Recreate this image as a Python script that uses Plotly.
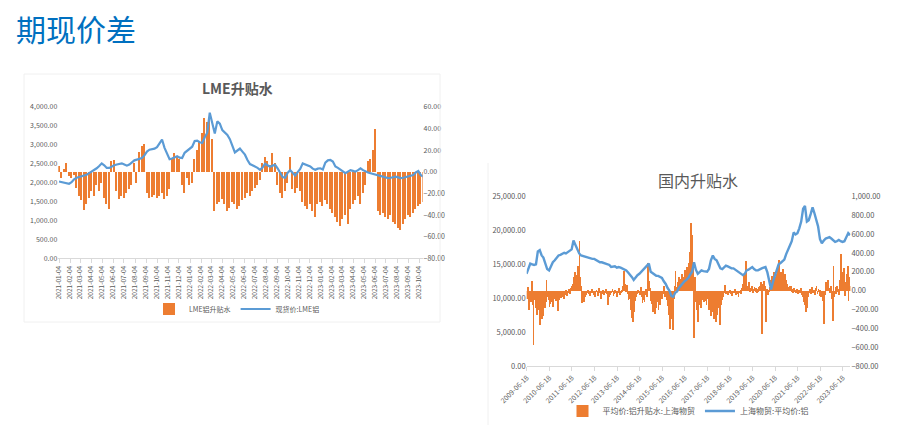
import plotly.graph_objects as go
import pandas as pd

W, H = 899, 425

# ---------------- Left chart: LME升贴水 (weekly) ----------------
lme_dates = pd.date_range('2021-01-04', periods=146, freq='7D')
lme_spread = [
    5, -6, 3, 8, -4, -6, -3, -15, -22, -26,
    -35, -30, -24, -18, -22, -12, -18, -10, -24, -30,
    -34, 10, 11, -18, -25, -22, -24, -20, -16, -12,
    8, -10, 18, 24, 26, -20, -24, -23, -21, -24,
    -22, -20, -25, -22, -16, 12, 17, 15, 12, -12,
    -20, -6, -12, -10, 12, 20, 28, 36, 50, 46,
    48, 30, -36, -30, -28, -25, -30, -36, -33, -28,
    -30, -34, -32, -26, -24, -20, -22, -18, -15, -12,
    -8, 8, 14, 10, 6, 17, 8, -12, -20, -24,
    -18, -10, 14, -16, -20, -15, -18, -28, -32, -34,
    -30, -36, -42, -30, -28, -32, -26, -30, -34, -38,
    -42, -46, -50, -44, -40, -48, -34, -30, -26, -22,
    -30, -20, -12, 10, 12, 20, 40, -36, -40, -38,
    -42, -44, -40, -46, -48, -52, -54, -48, -44, -40,
    -42, -38, -34, -32, -30, -28,
]
lme_price = [
    2030, 2010, 1990, 1975, 1970, 2010, 2090, 2130, 2150, 2170,
    2200, 2210, 2250, 2290, 2330, 2380, 2440, 2510, 2460, 2390,
    2390, 2430, 2460, 2480, 2500, 2510, 2480, 2450, 2480, 2540,
    2590, 2610, 2630, 2650, 2720, 2820, 2870, 2880, 2900, 2940,
    3050, 3140, 2920, 2760, 2620, 2640, 2680, 2700, 2660, 2650,
    2790, 2840, 2900, 2950, 3100, 3110, 3070, 3050, 3200, 3320,
    3850, 3600, 3300, 3620, 3560, 3390, 3330, 3260, 3150, 2980,
    2800, 2850, 2900, 2820, 2740, 2600, 2490, 2460, 2430, 2390,
    2340, 2400, 2500, 2470, 2420, 2450, 2470, 2380, 2260, 2150,
    2130, 2260, 2330, 2250, 2190, 2280, 2360, 2510, 2490, 2460,
    2430, 2370, 2340, 2370, 2380, 2350, 2530, 2590, 2600, 2560,
    2430, 2390, 2340, 2290, 2250, 2290, 2330, 2310, 2290, 2330,
    2380, 2330, 2290, 2270, 2250, 2230, 2210, 2190, 2170, 2160,
    2140, 2120, 2130, 2150, 2160, 2140, 2120, 2130, 2150, 2160,
    2180, 2200, 2270, 2310, 2200, 2160,
]
lme_ticks = [f'{y}-{m:02d}-04' for y in (2021, 2022, 2023) for m in range(1, 13)
             if not (y == 2023 and m > 10)]

# ---------------- Right chart: 国内升贴水 ----------------
sh_spread_by_year = {
    2009: [-80, 40, -205, -60, -120, 110, -150, -570, -90, -100, -180, -250, -120],
    2010: [-200, -360, -150, -300, -260, -100, -180, -120, 120, -60, -90, -170,
           -140, -60, -120, -170, -80, -40, -100, -60, -210, -90, -40, -70],
    2011: [-60, -30, -80, -20, -40, 10, -50, -20, 20, -30, 30, 60,
           80, 150, 200, 120, 170, 270, 180, 535, 150, 60, -130, -90],
    2012: [-120, -60, -40, -20, 10, -30, -50, -20, 20, -10, -40, -60,
           -30, 10, -20, -50, 30, -10, -80, -30, 10, -40, -20, 20],
    2013: [-30, -150, -60, -20, -40, -10, 20, -50, -30, 10, -20, -60,
           -10, 30, -40, -20, 10, 60, 215, 80, 20, 70, -30, -90],
    2014: [-80, -200, -150, -280, -330, -220, -100, -60, -30, 10, -20, -40,
           40, -60, -130, -90, -120, -40, 20, -60, 300, 110, 30, -100],
    2015: [-140, -220, -100, -240, -180, -120, -90, -200, -60, -150, -40, -80,
           -30, 50, -60, -20, -90, -160, -250, -400, -120, -300, -415, -80],
    2016: [60, 215, 40, 100, 60, 150, 90, 130, 180, 110, 150, 220,
           170, 260, 200, 300, 420, 728, 350, 600, 250, -500, 150, -120],
    2017: [-200, -330, -150, -100, -180, -90, -60, -120, -40, -100, -150, -80,
           -120, -200, -180, -260, -150, -220, -300, -200, -330, -250, -120, -180],
    2018: [-360, -150, -90, -40, -60, -20, 70, -30, -10, -40, -20, 10,
           -30, -50, -10, -20, 20, -40, -30, -10, -60, -20, 10, -30],
    2019: [30, 80, 170, 120, 320, 60, 40, 100, 20, 30, 50, -10,
           20, 40, 10, 30, -20, 20, 40, 60, 100, -455, 80, 110],
    2020: [60, -330, 20, -40, 10, 40, 120, 80, 160, 110, 200, 150,
           90, 180, 250, 330, 120, 200, 160, 235, 100, 180, 120, 60],
    2021: [80, 40, 60, 30, 50, 20, -10, 30, 10, -20, 20, -30,
           10, -20, 30, -40, -60, -120, -80, -150, -225, -180, -60, -20],
    2022: [20, -30, 40, -20, 10, -40, 30, 60, -30, 20, -50, 10,
           -60, -20, -100, -350, -40, 100, 80, 120, 30, -20, 60, -80],
    2023: [-320, 270, -60, 40, -30, 60, 20, -40, 120, 390, 60, 200,
           250, -50, 100, 180, 270, -100, 150, 60],
}
sh_price_by_year = {
    2009: [13600, 14300, 15100, 15000, 14900, 15000, 16900],
    2010: [17100, 16300, 16000, 15200, 14300, 14100, 14700, 15300, 15600, 16000, 16300, 16400],
    2011: [16600, 16700, 16600, 16800, 16900, 17200, 18500, 17800, 17300, 16600, 16300, 16200],
    2012: [16100, 16100, 16000, 15900, 15800, 15800, 15600, 15400, 15300, 15300, 15200, 15200],
    2013: [15100, 14900, 14600, 14600, 14700, 14500, 14600, 14500, 14400, 14200, 14100, 13800],
    2014: [13500, 13100, 12700, 13100, 13400, 13600, 13900, 14200, 14600, 14800, 15100, 13900],
    2015: [13700, 13400, 13300, 13300, 13200, 13000, 12500, 12100, 11500, 11100, 10300, 10200],
    2016: [10800, 11000, 11500, 11900, 12100, 12500, 12700, 13000, 13500, 13900, 15300, 14200],
    2017: [13600, 13800, 14100, 14000, 13900, 13900, 14300, 15600, 16300, 15800, 15600, 14900],
    2018: [14400, 14300, 14500, 14800, 14700, 14500, 14400, 14400, 14200, 14000, 13900, 13700],
    2019: [13400, 13600, 14100, 14200, 14400, 14600, 14300, 14100, 14100, 14300, 14400, 14500],
    2020: [14600, 13800, 12600, 11300, 12400, 13300, 14300, 15000, 15200, 15400, 15700, 16500],
    2021: [17300, 17800, 18400, 19700, 19400, 19600, 20300, 21300, 23200, 23600, 21300, 21500],
    2022: [22400, 23400, 22600, 21400, 20600, 18700, 18100, 18500, 18800, 18900, 19000, 18800],
    2023: [18500, 18300, 18400, 18600, 18400, 18300, 18400, 18900, 19600, 19300],
}
sh_ticks = [f'{y}-06-18' for y in range(2009, 2024)]

# build date lists (half-monthly for spread, monthly for price)
sh_spread_dates, sh_spread = [], []
for y, vals in sh_spread_by_year.items():
    slots = [(m, d) for m in range(1, 13) for d in (1, 16)]
    if y == 2009:
        slots = slots[11:]
    for (m, d), v in zip(slots, vals):
        sh_spread_dates.append(f'{y}-{m:02d}-{d:02d}')
        sh_spread.append(v)
sh_price_dates, sh_price = [], []
for y, vals in sh_price_by_year.items():
    months = list(range(6, 13)) if y == 2009 else list(range(1, 13))
    for m, v in zip(months, vals):
        sh_price_dates.append(f'{y}-{m:02d}-15')
        sh_price.append(v)

ORANGE = '#ED7D31'
BLUE = '#5B9BD5'
GRAY = '#595959'
AX = '#D9D9D9'
FONT = 'Noto Sans CJK SC'
DAY = 86400000


def px_x(x):
    return x / W


def px_y(y):
    return 1 - y / H


fig = go.Figure()
fig.add_trace(go.Bar(x=lme_dates, y=lme_spread, xaxis='x', yaxis='y', name='LME铝升贴水',
                     marker=dict(color=ORANGE, line=dict(width=0)), width=3.5 * DAY,
                     legend='legend'))
fig.add_trace(go.Scatter(x=lme_dates, y=lme_price, xaxis='x', yaxis='y2', name='现货价:LME铝',
                         mode='lines', line=dict(color=BLUE, width=2.2), legend='legend'))
fig.add_trace(go.Bar(x=sh_spread_dates, y=sh_spread, xaxis='x2', yaxis='y3',
                     name='平均价:铝升贴水:上海物贸',
                     marker=dict(color=ORANGE, line=dict(width=0)), width=13 * DAY,
                     legend='legend2'))
fig.add_trace(go.Scatter(x=sh_price_dates, y=sh_price, xaxis='x2', yaxis='y4',
                         name='上海物贸:平均价:铝', mode='lines',
                         line=dict(color=BLUE, width=2.4), legend='legend2'))

tickfont = dict(family=FONT, size=7, color=GRAY)

fig.update_layout(
    width=W, height=H, margin=dict(l=0, r=0, t=0, b=0, pad=0, autoexpand=False),
    paper_bgcolor='white', plot_bgcolor='rgba(0,0,0,0)',
    showlegend=True, bargap=0,
    font=dict(family=FONT, color=GRAY),
    xaxis=dict(domain=[px_x(58.3), px_x(422.6)], anchor='y', type='date',
               range=['2021-01-02', '2023-10-14'], tickmode='array',
               tickvals=lme_ticks, ticktext=lme_ticks, tickangle=-90,
               tickfont=dict(family=FONT, size=6.5, color=GRAY), automargin=False,
               showline=True, linecolor=AX, ticks='outside', ticklen=4, tickcolor=AX,
               showgrid=False, zeroline=False),
    yaxis=dict(domain=[px_y(258.3), px_y(107)], anchor='x', side='right',
               range=[-80, 60], dtick=20, tickformat=',.2f', tickfont=tickfont,
               automargin=False, showgrid=False, zeroline=False, showline=False),
    yaxis2=dict(overlaying='y', anchor='x', side='left', range=[0, 4000], dtick=500,
                tickformat=',.2f', tickfont=tickfont, automargin=False,
                showgrid=False, zeroline=False),
    xaxis2=dict(domain=[px_x(526.7), px_x(850.4)], anchor='y3', type='date',
                range=['2009-06-18', '2023-10-20'], tickmode='array',
                tickvals=sh_ticks, ticktext=sh_ticks, tickangle=-45,
                tickfont=dict(family=FONT, size=7, color=GRAY), automargin=False,
                showline=True, linecolor=AX, ticks='outside', ticklen=4, tickcolor=AX,
                showgrid=False, zeroline=False),
    yaxis3=dict(domain=[px_y(366), px_y(196.5)], anchor='x2', side='right',
                range=[-800, 1000], dtick=200, tickformat=',.2f', automargin=False,
                tickfont=dict(family=FONT, size=7.5, color=GRAY),
                showgrid=False, zeroline=False),
    yaxis4=dict(overlaying='y3', anchor='x2', side='left', range=[0, 25000], dtick=5000,
                tickformat=',.2f', tickfont=dict(family=FONT, size=7.5, color=GRAY),
                automargin=False, showgrid=False, zeroline=False),
    legend=dict(orientation='h', x=px_x(237), xanchor='center', y=px_y(309), yanchor='middle',
                font=dict(family=FONT, size=7, color=GRAY), bgcolor='rgba(0,0,0,0)',
                itemwidth=30),
    legend2=dict(orientation='h', x=px_x(688), xanchor='center', y=px_y(411), yanchor='middle',
                 font=dict(family=FONT, size=8, color=GRAY), bgcolor='rgba(0,0,0,0)',
                 itemwidth=30),
    annotations=[
        dict(text='期现价差', x=px_x(14), y=px_y(28), xref='paper', yref='paper',
             xanchor='left', yanchor='middle', showarrow=False,
             font=dict(family=FONT, size=30, color='#0070C0')),
        dict(text='<b>LME升贴水</b>', x=px_x(237), y=px_y(88), xref='paper', yref='paper',
             xanchor='center', yanchor='middle', showarrow=False,
             font=dict(family=FONT, size=14, color=GRAY)),
        dict(text='国内升贴水', x=px_x(698), y=px_y(180), xref='paper', yref='paper',
             xanchor='center', yanchor='middle', showarrow=False,
             font=dict(family=FONT, size=16, color=GRAY)),
    ],
    shapes=[
        dict(type='rect', xref='paper', yref='paper', x0=px_x(24), x1=px_x(440),
             y0=px_y(322), y1=px_y(74), line=dict(color='#F0F0F0', width=1)),
        dict(type='line', xref='paper', yref='paper', x0=px_x(488), x1=px_x(488),
             y0=px_y(425), y1=px_y(163), line=dict(color='#F0F0F0', width=1)),
    ],
)

fig.write_html('out.html', config={'displayModeBar': False},
               post_script="document.body.style.margin='0';")
